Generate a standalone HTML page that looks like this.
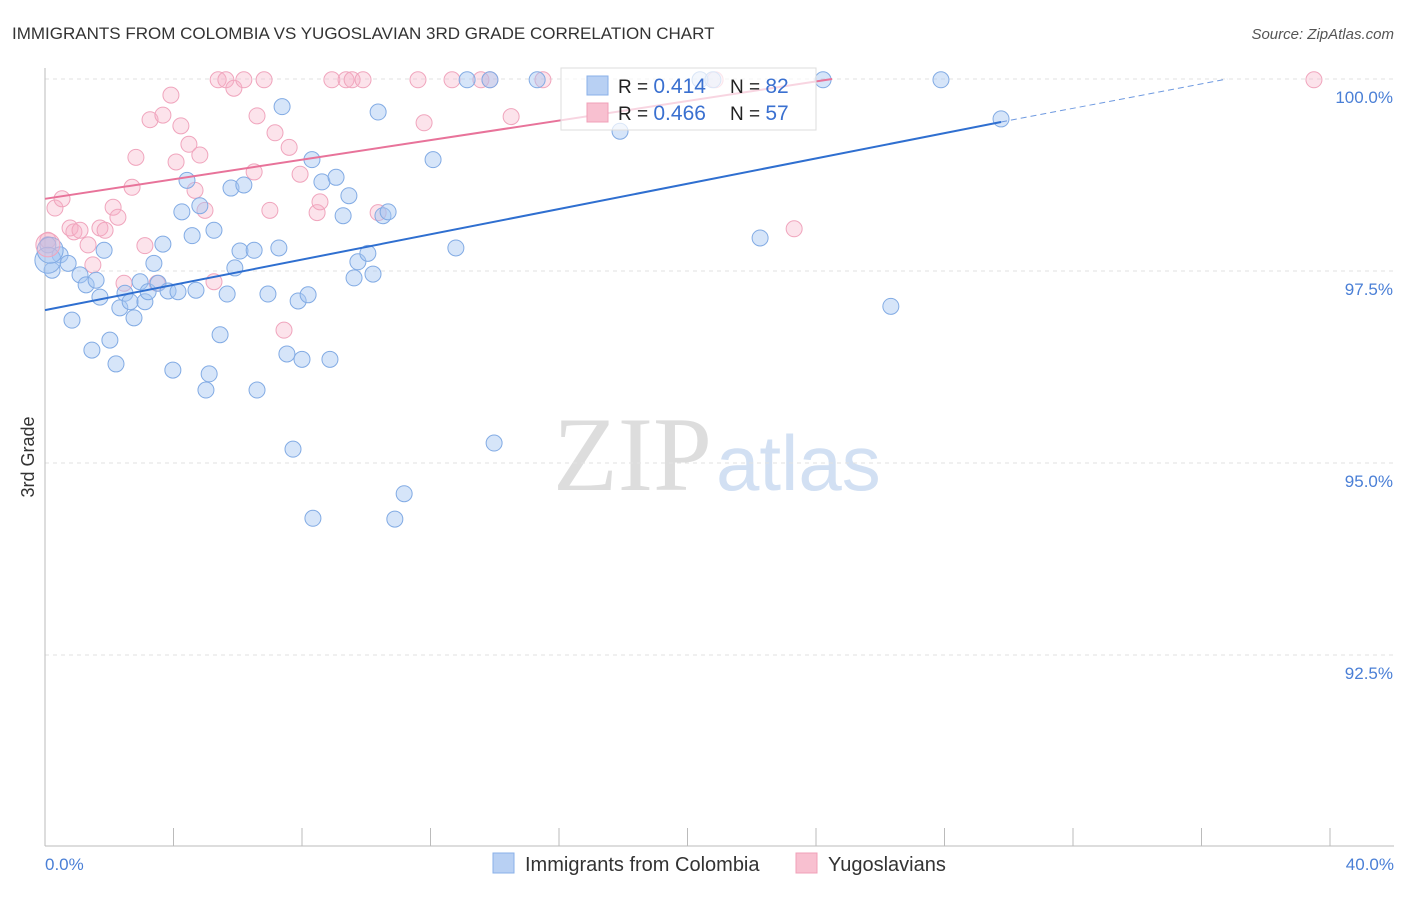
<!DOCTYPE html>
<html><head><meta charset="utf-8">
<style>
body{margin:0;background:#fff;font-family:"Liberation Sans",sans-serif;}
#wrap{position:relative;width:1406px;height:892px;}
</style></head>
<body>
<div id="wrap">
<svg id="svg" width="1406" height="892" xmlns="http://www.w3.org/2000/svg">
<text x="12" y="39" font-size="17" fill="#333">IMMIGRANTS FROM COLOMBIA VS YUGOSLAVIAN 3RD GRADE CORRELATION CHART</text>
<text x="1394" y="39" font-size="15" fill="#555" font-style="italic" text-anchor="end">Source: ZipAtlas.com</text>
<text x="34" y="457" font-size="18" fill="#333" text-anchor="middle" transform="rotate(-90 34 457)">3rd Grade</text>
<text x="553" y="490" font-size="106" fill="#ddd" font-family="Liberation Serif,serif">ZIP</text>
<text x="716" y="490" font-size="78" fill="#d2e0f3">atlas</text>
<g id="grid"></g><g id="marks"></g><g id="lines"></g>
<g>
<rect x="561" y="68" width="255" height="62" fill="#fff" fill-opacity="0.7" stroke="#ddd"/>
<rect x="587" y="76" width="21" height="19" fill="#b8d0f3" stroke="#8ab0e8"/>
<rect x="587" y="103" width="21" height="19" fill="#f8c0d0" stroke="#f0a0b8"/>
<text x="618" y="93" font-size="19" fill="#222">R = <tspan fill="#3a70d0" font-size="21">0.414</tspan></text>
<text x="730" y="93" font-size="19" fill="#222">N = <tspan fill="#3a70d0" font-size="21">82</tspan></text>
<text x="618" y="120" font-size="19" fill="#222">R = <tspan fill="#3a70d0" font-size="21">0.466</tspan></text>
<text x="730" y="120" font-size="19" fill="#222">N = <tspan fill="#3a70d0" font-size="21">57</tspan></text>
</g>
<g>
<rect x="493" y="853" width="21" height="20" fill="#b8d0f3" stroke="#8ab0e8"/>
<text x="525" y="871" font-size="20" fill="#333">Immigrants from Colombia</text>
<rect x="796" y="853" width="21" height="20" fill="#f8c0d0" stroke="#f0a0b8"/>
<text x="828" y="871" font-size="20" fill="#333">Yugoslavians</text>
</g>
</svg>
</div>
<script>
const blueX=[0.09,0.22,0.47,0.72,0.84,1.09,1.28,1.46,1.59,1.71,1.84,2.02,2.21,2.33,2.49,2.65,2.77,2.96,3.11,3.21,3.39,3.52,3.67,3.83,3.98,4.14,4.26,4.42,4.58,4.70,4.82,5.11,5.01,5.26,5.45,5.67,5.79,5.91,6.07,6.19,6.51,6.60,6.94,7.28,7.38,7.53,7.72,7.88,8.00,8.19,8.34,8.31,8.62,8.87,9.06,9.28,9.46,9.62,9.74,10.05,10.21,10.37,10.52,10.68,10.89,11.18,12.08,12.79,13.14,13.85,13.98,15.32,17.90,20.39,20.79,22.26,24.22,26.33,27.89,29.76];
const blueY=[97.84,97.51,97.71,97.60,96.86,97.45,97.32,96.47,97.38,97.16,97.77,96.60,96.29,97.02,97.21,97.10,96.89,97.36,97.10,97.23,97.60,97.34,97.85,97.24,96.21,97.23,98.27,98.68,97.96,97.25,98.35,96.16,95.95,98.03,96.67,97.20,98.58,97.54,97.76,98.62,97.77,95.95,97.20,97.80,99.64,96.42,95.18,97.11,96.35,97.19,94.28,98.95,98.66,96.35,98.72,98.22,98.48,97.41,97.62,97.73,97.46,99.57,98.22,98.27,94.27,94.60,98.95,97.80,99.99,99.99,95.26,99.99,99.32,99.99,99.99,97.93,99.99,97.04,99.99,99.48];
const blueBigX=[0.09,0.16];
const blueBigY=[97.64,97.77];
const pinkX=[0.09,0.31,0.53,0.78,0.90,1.09,1.34,1.49,1.71,1.87,2.12,2.27,2.46,2.71,2.83,3.11,3.27,3.49,3.67,3.92,4.08,4.23,4.48,4.67,4.82,4.98,5.26,5.39,5.63,5.88,6.19,6.51,6.60,6.82,7.00,7.16,7.44,7.60,7.94,8.47,8.56,8.93,9.37,9.56,9.90,10.37,11.61,11.80,12.67,13.57,13.85,14.51,15.50,20.86,23.32,39.50];
const pinkY=[97.90,98.32,98.44,98.06,98.01,98.03,97.84,97.58,98.06,98.03,98.33,98.20,97.34,98.59,98.98,97.83,99.47,97.34,99.53,99.79,98.92,99.39,99.15,98.55,99.01,98.29,97.36,99.99,99.99,99.88,99.99,98.79,99.52,99.99,98.29,99.30,96.73,99.11,98.76,98.26,98.40,99.99,99.99,99.99,99.99,98.26,99.99,99.43,99.99,99.99,99.99,99.51,99.99,99.99,98.05,99.99];
const pinkBigX=[0.09];
const pinkBigY=[97.84];
const blueTrend=[0,96.99,29.76,99.44,36.8,100.0];
const pinkTrend=[0,98.44,24.5,100.0];
const yTicks=[100,97.5,95,92.5];
const yTickLabels=["100.0%","97.5%","95.0%","92.5%"];
const xTicks=[0,4,8,12,16,20,24,28,32,36,40];
const xEndLabels=["0.0%","40.0%"];

const NS="http://www.w3.org/2000/svg";
const sx=v=>45+v*32.125;
const sy=v=>79+(100-v)*76.8;
function mk(tag,attrs,parent){const e=document.createElementNS(NS,tag);for(const k in attrs)e.setAttribute(k,attrs[k]);document.getElementById(parent).appendChild(e);return e;}
yTicks.forEach((t,i)=>{
  const g=mk('line',{x1:45,x2:1394,y1:sy(t),y2:sy(t),stroke:'#e2e2e2','stroke-dasharray':'4,4'},'grid');
  
  
  const tx=mk('text',{x:1393,y:sy(t)+24,'font-size':17,fill:'#4a7fd6','text-anchor':'end'},'grid');
  tx.textContent=yTickLabels[i];
  
  
});
const ax=mk('line',{x1:45,x2:45,y1:68,y2:846,stroke:'#bbb'},'grid');


const bx=mk('line',{x1:45,x2:1394,y1:846,y2:846,stroke:'#bbb'},'grid');


xTicks.forEach(t=>{
  const l=mk('line',{x1:sx(t),x2:sx(t),y1:828,y2:846,stroke:'#bbb'},'grid');
  
  
});
const xl0=mk('text',{x:45,y:870,'font-size':17,fill:'#4a7fd6'},'grid');xl0.textContent=xEndLabels[0];


const xl1=mk('text',{x:1394,y:870,'font-size':17,fill:'#4a7fd6','text-anchor':'end'},'grid');xl1.textContent=xEndLabels[1];


function pts(X,Y,r,fill,stroke,name){X.forEach((x,i)=>{
  const c=mk('circle',{cx:sx(x),cy:sy(Y[i]),r:r,fill:fill,stroke:stroke,'stroke-width':1},'marks');
  
  
});}
pts(pinkX,pinkY,8,'rgba(246,176,198,0.35)','#f0a5bd','point-yugoslavians');
pts(blueX,blueY,8,'rgba(165,198,242,0.45)','#82abe4','point-colombia');
pts(blueBigX,blueBigY,13,'rgba(165,198,242,0.45)','#82abe4','point-colombia-large');
pts(pinkBigX,pinkBigY,12,'rgba(246,176,198,0.35)','#f0a5bd','point-yugoslavians-large');
const b1=mk('line',{x1:sx(blueTrend[0]),y1:sy(blueTrend[1]),x2:sx(blueTrend[2]),y2:sy(blueTrend[3]),stroke:'#2f6fd0','stroke-width':2},'lines');


const b2=mk('line',{x1:sx(blueTrend[2]),y1:sy(blueTrend[3]),x2:sx(blueTrend[4]),y2:sy(blueTrend[5]),stroke:'#6f9ae0','stroke-width':1,'stroke-dasharray':'6,4'},'lines');


const p1=mk('line',{x1:sx(pinkTrend[0]),y1:sy(pinkTrend[1]),x2:sx(pinkTrend[2]),y2:sy(pinkTrend[3]),stroke:'#e8739a','stroke-width':2},'lines');


</script>
</body></html>
